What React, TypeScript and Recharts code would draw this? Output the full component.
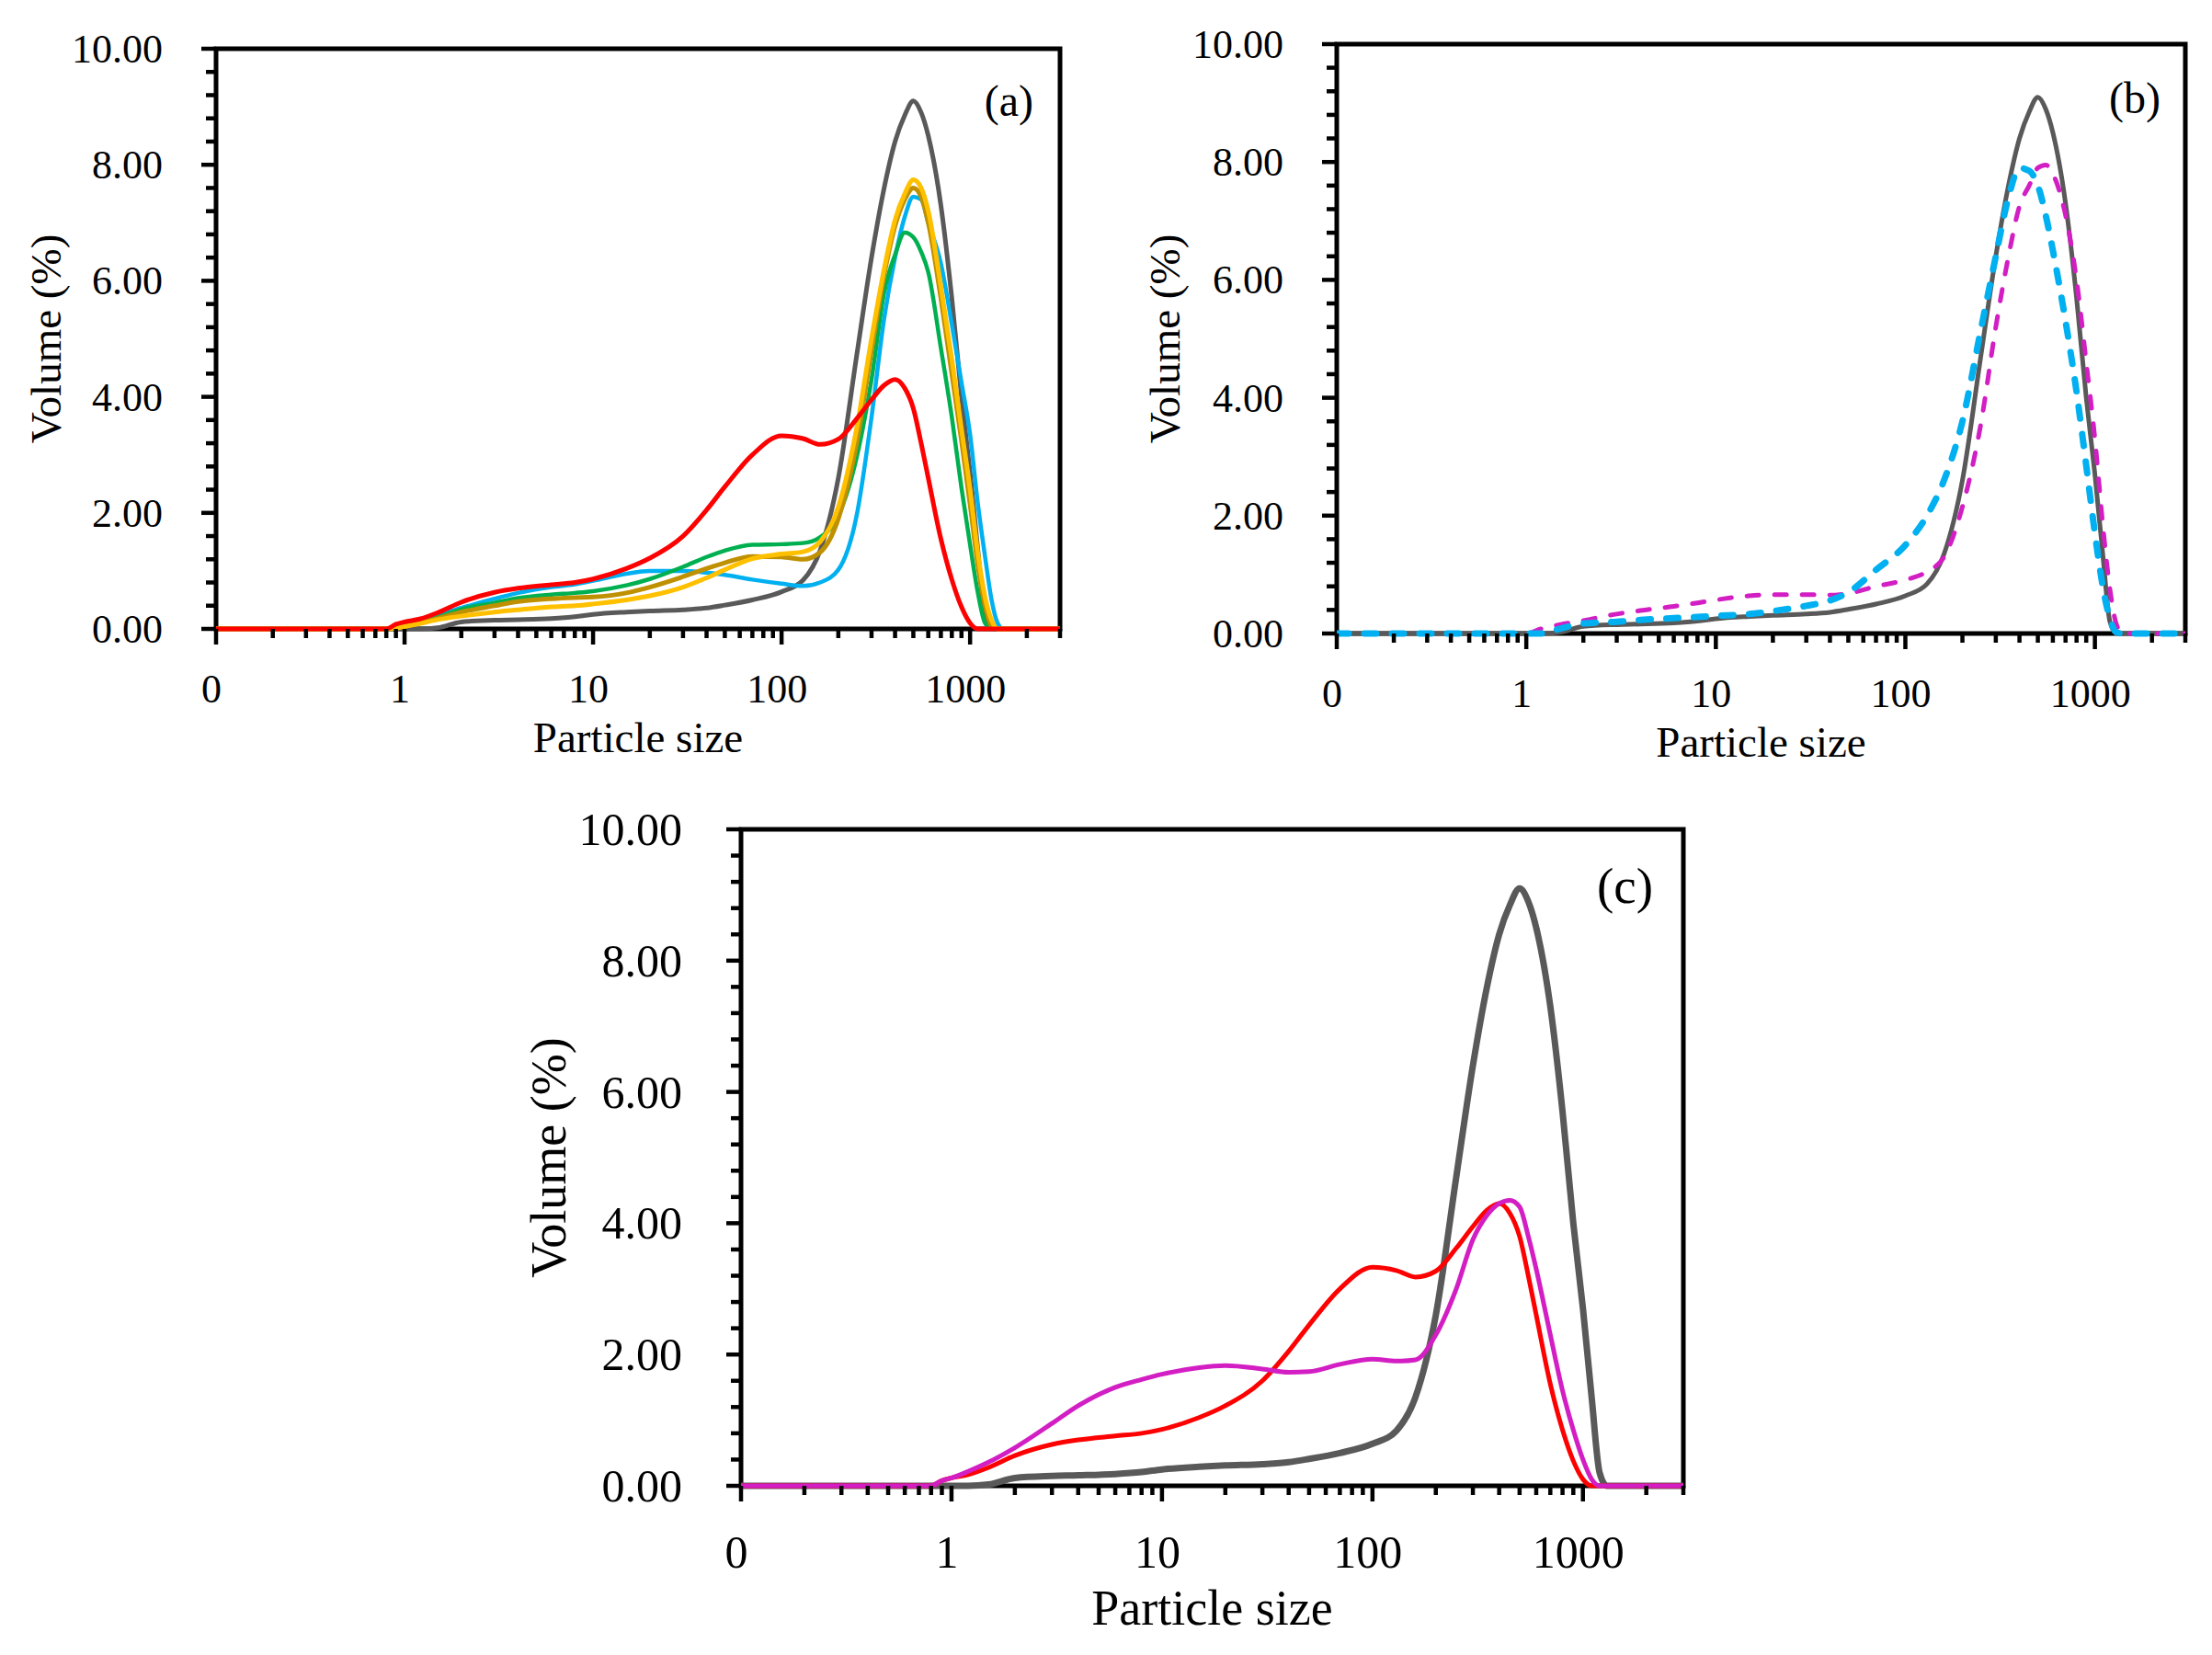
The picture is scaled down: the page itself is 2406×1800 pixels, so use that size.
import React from 'react';
import { LineChart, Line, XAxis, YAxis, ReferenceArea } from 'recharts';

// particle size grid (log axis), volume %
const sizes = [
  0.1, 0.8, 0.9, 1, 1.2, 1.5, 2, 3, 4, 6,
  8, 10, 15, 20, 30, 40, 50, 70, 100, 130,
  160, 200, 250, 300, 350, 400, 450, 500, 550, 600,
  700, 800, 900, 1000, 1100, 1200, 1300, 1400, 1500, 3000,
];

const volGray = [
  0, 0, 0, 0, 0, 0.02, 0.12, 0.15, 0.16, 0.18,
  0.21, 0.25, 0.29, 0.31, 0.33, 0.36, 0.41, 0.5, 0.64, 0.84,
  1.35, 2.6, 4.7, 6.4, 7.6, 8.4, 8.85, 9.1, 8.9, 8.5,
  7.3, 5.7, 4.0, 2.7, 1.35, 0.2, 0, 0, 0, 0,
];
const volRed = [
  0, 0, 0.08, 0.12, 0.17, 0.28, 0.46, 0.63, 0.7, 0.76,
  0.8, 0.86, 1.04, 1.22, 1.6, 2.05, 2.45, 3.0, 3.33, 3.28,
  3.18, 3.27, 3.62, 3.95, 4.2, 4.3, 4.15, 3.8, 3.2, 2.6,
  1.55, 0.85, 0.38, 0.1, 0, 0, 0, 0, 0, 0,
];
const volCyan = [
  0, 0, 0.03, 0.06, 0.12, 0.24, 0.36, 0.52, 0.62, 0.72,
  0.77, 0.83, 0.95, 1.0, 1.0, 0.97, 0.93, 0.85, 0.78, 0.74,
  0.8, 1.02, 1.95, 3.65, 5.35, 6.4, 7.1, 7.45, 7.4, 7.0,
  6.3, 5.25, 4.25, 3.35, 2.15, 1.25, 0.5, 0.1, 0, 0,
];
const volGreen = [
  0, 0, 0.02, 0.05, 0.1, 0.2, 0.34, 0.45, 0.53, 0.59,
  0.62, 0.65, 0.75, 0.86, 1.07, 1.24, 1.35, 1.45, 1.46, 1.48,
  1.58, 1.95, 2.95, 4.3, 5.8, 6.45, 6.83, 6.75, 6.5, 6.15,
  4.84, 3.65, 2.43, 1.45, 0.62, 0.1, 0, 0, 0, 0,
];
const volGold = [
  0, 0, 0.01, 0.04, 0.1, 0.18, 0.29, 0.4, 0.47, 0.52,
  0.54, 0.55, 0.62, 0.72, 0.9, 1.04, 1.14, 1.25, 1.24, 1.2,
  1.32, 1.9, 3.2, 4.8, 6.1, 6.95, 7.4, 7.6, 7.45, 7.0,
  5.7, 4.4, 3.25, 2.15, 1.1, 0.4, 0.05, 0, 0, 0,
];
const volYellow = [
  0, 0, 0.01, 0.04, 0.09, 0.16, 0.22, 0.29, 0.33, 0.38,
  0.4, 0.43, 0.5, 0.57, 0.72, 0.88, 1.02, 1.21, 1.29, 1.33,
  1.5, 2.1, 3.45, 5.0, 6.2, 7.05, 7.5, 7.74, 7.6, 7.2,
  5.9, 4.65, 3.45, 2.4, 1.3, 0.55, 0.15, 0, 0, 0,
];
const volPinkDash = [
  0, 0, 0, 0, 0.08, 0.15, 0.22, 0.33, 0.39, 0.46,
  0.52, 0.57, 0.64, 0.66, 0.66, 0.65, 0.68, 0.8, 0.91, 1.05,
  1.3, 2.15, 3.55, 5.2, 6.4, 7.25, 7.6, 7.9, 7.95, 7.8,
  7.1, 6.0, 4.6, 3.3, 1.85, 0.75, 0.15, 0, 0, 0,
];
const volCyanDash = [
  0, 0, 0, 0, 0, 0.08, 0.17, 0.2, 0.23, 0.26,
  0.28, 0.3, 0.33, 0.38, 0.47, 0.56, 0.7, 1.08, 1.5, 2.0,
  2.6, 3.6, 5.15, 6.4, 7.4, 7.9, 7.85, 7.6, 7.1, 6.5,
  5.3, 4.1, 2.85, 1.7, 0.8, 0.25, 0.02, 0, 0, 0,
];
const volPink = [
  0, 0, 0.08, 0.12, 0.22, 0.36, 0.58, 0.95, 1.22, 1.5,
  1.62, 1.7, 1.8, 1.83, 1.78, 1.73, 1.74, 1.85, 1.93, 1.9,
  1.92, 2.3, 3.0, 3.75, 4.12, 4.3, 4.35, 4.25, 3.8, 3.3,
  2.3, 1.45, 0.85, 0.4, 0.1, 0, 0, 0, 0, 0,
];

const xTicks = [
  0.1, 0.2, 0.3, 0.4, 0.5, 0.6, 0.7, 0.8, 0.9,
  1, 2, 3, 4, 5, 6, 7, 8, 9,
  10, 20, 30, 40, 50, 60, 70, 80, 90,
  100, 200, 300, 400, 500, 600, 700, 800, 900,
  1000, 2000, 3000,
];
const xMajor = [0.1, 1, 10, 100, 1000];
const yTicks = [0, 0.4, 0.8, 1.2, 1.6, 2, 2.4, 2.8, 3.2, 3.6, 4, 4.4, 4.8, 5.2, 5.6, 6, 6.4, 6.8, 7.2, 7.6, 8, 8.4, 8.8, 9.2, 9.6, 10];
const yMajor = [0, 2, 4, 6, 8, 10];

const rows = sizes.map((size, i) => ({
  size,
  gray: volGray[i],
  red: volRed[i],
  cyan: volCyan[i],
  green: volGreen[i],
  gold: volGold[i],
  yellow: volYellow[i],
  pinkDash: volPinkDash[i],
  cyanDash: volCyanDash[i],
  pink: volPink[i],
}));

const FONT = '"Liberation Serif", "Times New Roman", serif';

const seriesA = [
  { key: 'gray', color: '#595959', width: 5 },
  { key: 'cyan', color: '#00B0F0', width: 4.5 },
  { key: 'green', color: '#00B050', width: 4.5 },
  { key: 'gold', color: '#BF9000', width: 5 },
  { key: 'yellow', color: '#FFC000', width: 5 },
  { key: 'red', color: '#FF0000', width: 5 },
];
const seriesB = [
  { key: 'gray', color: '#595959', width: 5 },
  { key: 'pinkDash', color: '#D21EC3', width: 5, dash: '13 17' },
  { key: 'cyanDash', color: '#00B0F0', width: 7, dash: '13 17' },
];
const seriesC = [
  { key: 'gray', color: '#595959', width: 7 },
  { key: 'red', color: '#FF0000', width: 5 },
  { key: 'pink', color: '#D21EC3', width: 5 },
];

function Panel({ left, top, width, height, yAxisW, plotW, plotH, marginTop, tickFont, titleFont, letter, letterX, letterY, xTitleY, yTitleX, xLabelDy, yLabelDx, series }) {
  const plotBottom = marginTop + plotH;
  const cx = yAxisW + plotW / 2;
  const cy = marginTop + plotH / 2;

  const xTick = (p) => {
    const v = p.payload.value;
    const major = xMajor.includes(v);
    return (
      <g>
        <line x1={p.x} x2={p.x} y1={p.y} y2={p.y + (major ? 17 : 10)} stroke="#000" strokeWidth={4.5} />
        {major && (
          <text x={p.x - 5} y={p.y + xLabelDy} textAnchor="middle" fontFamily={FONT} fontSize={tickFont} fill="#000">
            {v === 0.1 ? '0' : String(v)}
          </text>
        )}
      </g>
    );
  };

  const yTick = (p) => {
    const v = p.payload.value;
    const major = yMajor.includes(v);
    return (
      <g>
        <line x1={p.x - (major ? 16 : 11)} x2={p.x} y1={p.y} y2={p.y} stroke="#000" strokeWidth={4.5} />
        {major && (
          <text x={p.x - yLabelDx} y={p.y} dy="0.34em" textAnchor="end" fontFamily={FONT} fontSize={tickFont} fill="#000">
            {v.toFixed(2)}
          </text>
        )}
      </g>
    );
  };

  return (
    <div style={{ position: 'absolute', left, top, width, height }}>
      <LineChart
        width={width}
        height={height}
        data={rows}
        margin={{ top: marginTop, right: width - yAxisW - plotW, bottom: 0, left: 0 }}
      >
        <XAxis
          dataKey="size"
          type="number"
          scale="log"
          domain={[0.1, 3000]}
          allowDataOverflow
          ticks={xTicks}
          interval={0}
          height={height - plotBottom}
          tickSize={0}
          tickMargin={0}
          axisLine={false}
          tickLine={false}
          tick={xTick}
          label={() => (
            <text x={cx} y={xTitleY} textAnchor="middle" fontFamily={FONT} fontSize={titleFont} fill="#000">
              Particle size
            </text>
          )}
        />
        <YAxis
          type="number"
          domain={[0, 10]}
          ticks={yTicks}
          interval={0}
          width={yAxisW}
          tickSize={0}
          tickMargin={0}
          axisLine={false}
          tickLine={false}
          tick={yTick}
          label={() => (
            <text
              x={yTitleX}
              y={cy}
              transform={`rotate(-90, ${yTitleX}, ${cy})`}
              textAnchor="middle"
              fontFamily={FONT}
              fontSize={titleFont}
              fill="#000"
            >
              Volume (%)
            </text>
          )}
        />
        <ReferenceArea
          x1={0.1}
          x2={3000}
          y1={0}
          y2={10}
          fill="none"
          fillOpacity={0}
          stroke="#000"
          strokeWidth={5}
          label={() => (
            <text x={letterX} y={letterY} textAnchor="end" fontFamily={FONT} fontSize={titleFont + 1} fill="#000">
              {letter}
            </text>
          )}
        />
        {series.map((s) => (
          <Line
            key={s.key}
            dataKey={s.key}
            type="monotone"
            stroke={s.color}
            strokeWidth={s.width}
            strokeDasharray={s.dash}
            strokeLinecap="round"
            dot={false}
            activeDot={false}
            isAnimationActive={false}
          />
        ))}
      </LineChart>
    </div>
  );
}

export default function App() {
  return (
    <div style={{ position: 'absolute', left: 0, top: 0, width: 2406, height: 1800, background: '#fff' }}>
      <Panel
        left={0}
        top={0}
        width={1193}
        height={845}
        yAxisW={235}
        plotW={918}
        plotH={631}
        marginTop={53}
        tickFont={44}
        titleFont={47}
        letter="(a)"
        letterX={1124}
        letterY={126}
        xTitleY={818}
        yTitleX={66}
        xLabelDy={80}
        yLabelDx={58}
        series={seriesA}
      />
      <Panel
        left={1234}
        top={0}
        width={1168}
        height={845}
        yAxisW={220}
        plotW={923}
        plotH={641}
        marginTop={48}
        tickFont={44}
        titleFont={47}
        letter="(b)"
        letterX={1116}
        letterY={123}
        xTitleY={823}
        yTitleX={49}
        xLabelDy={80}
        yLabelDx={58}
        series={seriesB}
      />
      <Panel
        left={520}
        top={850}
        width={1341}
        height={946}
        yAxisW={286}
        plotW={1025}
        plotH={714}
        marginTop={52}
        tickFont={50}
        titleFont={54}
        letter="(c)"
        letterX={1278}
        letterY={132}
        xTitleY={917}
        yTitleX={95}
        xLabelDy={89}
        yLabelDx={64}
        series={seriesC}
      />
    </div>
  );
}
